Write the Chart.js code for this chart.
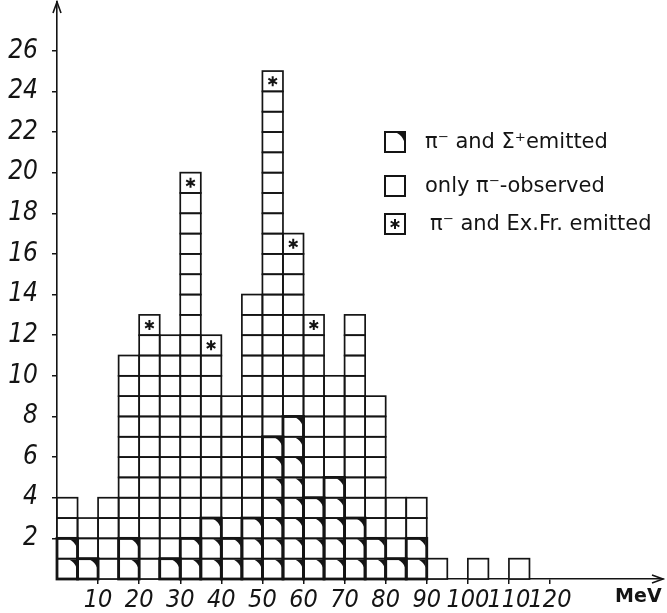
<!DOCTYPE html>
<html>
<head>
<meta charset="utf-8">
<script src="https://cdn.jsdelivr.net/npm/chart.js@4.4.1/dist/chart.umd.min.js"></script>
<style>
  html, body { margin: 0; padding: 0; background: #fff; }
  #wrap { width: 667px; height: 613px; position: relative; }
</style>
</head>
<body>
<div id="wrap"><canvas id="hist"></canvas></div>
<script>
// lower edge of each 5 MeV bin
const binStart = [0, 5, 10, 15, 20, 25, 30, 35, 40, 45, 50, 55, 60, 65, 70, 75, 80, 85, 90, 95, 100, 105, 110];
const binWidth = 5;
// number of events per bin, split by what was seen
const sigmaEvents  = [2, 1, 0, 2, 0, 1, 2, 3, 2, 3, 7, 8, 4, 5, 3, 2, 1, 2, 0, 0, 0, 0, 0];
const onlyPiEvents = [2, 2, 4, 9, 12, 11, 17, 8, 7, 11, 17, 8, 8, 5, 10, 7, 3, 2, 1, 0, 1, 0, 1];
const exFrEvents   = [0, 0, 0, 0, 1, 0, 1, 1, 0, 0, 1, 1, 1, 0, 0, 0, 0, 0, 0, 0, 0, 0, 0];

const xTicks = [10, 20, 30, 40, 50, 60, 70, 80, 90, 100, 110, 120];
const yTicks = [2, 4, 6, 8, 10, 12, 14, 16, 18, 20, 22, 24, 26];
const xUnit = 'MeV';
const seriesLabels = ['\u03C0\u207B and \u03A3\u207Aemitted', 'only \u03C0\u207B-observed', '\u03C0\u207B and Ex.Fr. emitted'];
const seriesValues = [sigmaEvents, onlyPiEvents, exFrEvents];

const narrow = "'Liberation Sans Narrow', 'DejaVu Sans Condensed', sans-serif";
const ink = '#141414';

function toPoints(arr) {
    return arr.map((v, i) => ({ x: binStart[i] + binWidth / 2, y: v || null }));
}

// black corner of a Sigma square (triangle with a slightly hollow side)
function cornerMark(ctx, right, top, sw, sh) {
    ctx.beginPath();
    ctx.moveTo(right - sw, top);
    ctx.lineTo(right, top);
    ctx.lineTo(right, top + sh);
    ctx.quadraticCurveTo(right - sw * 0.3, top + sh * 0.3, right - sw, top);
    ctx.closePath();
    ctx.fill();
}

function star(ctx, cx, cy, r) {
    ctx.beginPath();
    for (let k = 0; k < 3; k++) {
        const a = Math.PI / 2 + k * Math.PI / 3;
        ctx.moveTo(cx + r * Math.cos(a), cy - r * Math.sin(a));
        ctx.lineTo(cx - r * Math.cos(a), cy + r * Math.sin(a));
    }
    ctx.stroke();
}

const squaresPlugin = {
    id: 'squares',
    afterDatasetsDraw(chart) {
        const ctx = chart.ctx;
        const ys = chart.scales.y;
        ctx.save();
        ctx.strokeStyle = ink;
        ctx.fillStyle = ink;
        const outlines = [];
        chart.data.datasets.forEach((ds, di) => {
            const meta = chart.getDatasetMeta(di);
            meta.data.forEach((bar, i) => {
                const v = seriesValues[di][i];
                if (!v) return;
                let start = 0;
                for (let d = 0; d < di; d++) start += seriesValues[d][i];
                const p = bar.getProps(['x', 'y', 'base', 'width'], true);
                const left = p.x - p.width / 2, right = p.x + p.width / 2;
                for (let k = 0; k < v; k++) {
                    const bottom = ys.getPixelForValue(start + k);
                    const top = ys.getPixelForValue(start + k + 1);
                    ctx.lineWidth = 1.7;
                    ctx.strokeRect(left, top, right - left, bottom - top);
                    if (di === 0) cornerMark(ctx, right - 1, top + 1, 7, 8);
                    if (di === 2) { ctx.lineWidth = 2; star(ctx, (left + right) / 2, (top + bottom) / 2, 5); }
                }
                if (di === 0) outlines.push([left, p.y, right - left, p.base - p.y]);
            });
        });
        ctx.lineWidth = 2.8;
        outlines.forEach(r => ctx.strokeRect(r[0], r[1], r[2], r[3]));

        // axis arrows
        const a = chart.chartArea;
        ctx.lineWidth = 1.6;
        ctx.beginPath();
        ctx.moveTo(a.left - 4, a.top + 11); ctx.lineTo(a.left, a.top); ctx.lineTo(a.left + 4, a.top + 11);
        ctx.moveTo(a.right - 11, a.bottom - 4); ctx.lineTo(a.right, a.bottom); ctx.lineTo(a.right - 11, a.bottom + 4);
        ctx.stroke();

        // unit label
        ctx.font = "bold 19px 'DejaVu Sans', sans-serif";
        ctx.textAlign = 'center';
        ctx.textBaseline = 'middle';
        ctx.fillText(xUnit, chart.scales.x.getPixelForValue(141.5), 597);

        // legend
        const rows = [142, 186, 224];
        ctx.textAlign = 'left';
        chart.data.datasets.forEach((ds, di) => {
            const cy = rows[di];
            const bx = 385, s = 20;
            ctx.lineWidth = 2;
            ctx.strokeRect(bx, cy - s / 2, s, s);
            if (di === 0) cornerMark(ctx, bx + s - 1, cy - s / 2 + 1, 7, 8);
            if (di === 2) star(ctx, bx + s / 2, cy, 5);
            ctx.font = "21px 'DejaVu Sans', sans-serif";
            ctx.fillText(ds.label, di === 2 ? 430 : 425, cy + 1);
        });
        ctx.restore();
    }
};

new Chart(document.getElementById('hist'), {
    type: 'bar',
    data: {
        datasets: seriesValues.map((vals, i) => ({
            label: seriesLabels[i],
            data: toPoints(vals),
            backgroundColor: '#fff',
            borderWidth: 0,
            barPercentage: 1,
            categoryPercentage: 1
        }))
    },
    options: {
        responsive: true,
        maintainAspectRatio: false,
        animation: false,
        layout: { padding: { top: 2, right: 4, left: 0, bottom: 0 } },
        plugins: { legend: { display: false }, tooltip: { enabled: false } },
        scales: {
            x: {
                type: 'linear',
                stacked: true,
                offset: false,
                min: 0,
                max: 147.5,
                afterBuildTicks: s => { s.ticks = xTicks.map(v => ({ value: v })); },
                afterFit: s => { s.height = 34; s.paddingLeft = 0; s.paddingRight = 0; },
                ticks: { color: ink, font: { family: narrow, size: 25, style: 'italic' }, padding: 1, maxRotation: 0, autoSkip: false },
                grid: { offset: false, drawOnChartArea: false, color: ink, lineWidth: 1.5, tickLength: 5 },
                border: { color: ink, width: 1.6 }
            },
            y: {
                stacked: true,
                min: 0,
                max: 28.4,
                afterBuildTicks: s => { s.ticks = yTicks.map(v => ({ value: v })); },
                afterFit: s => { s.width = 57; s.paddingTop = 0; s.paddingBottom = 0; },
                ticks: { color: ink, font: { family: narrow, size: 26, style: 'italic' }, padding: 14, autoSkip: false },
                grid: { drawOnChartArea: false, color: ink, lineWidth: 1.5, tickLength: 5 },
                border: { color: ink, width: 1.6 }
            }
        }
    },
    plugins: [squaresPlugin]
});
</script>
</body>
</html>
